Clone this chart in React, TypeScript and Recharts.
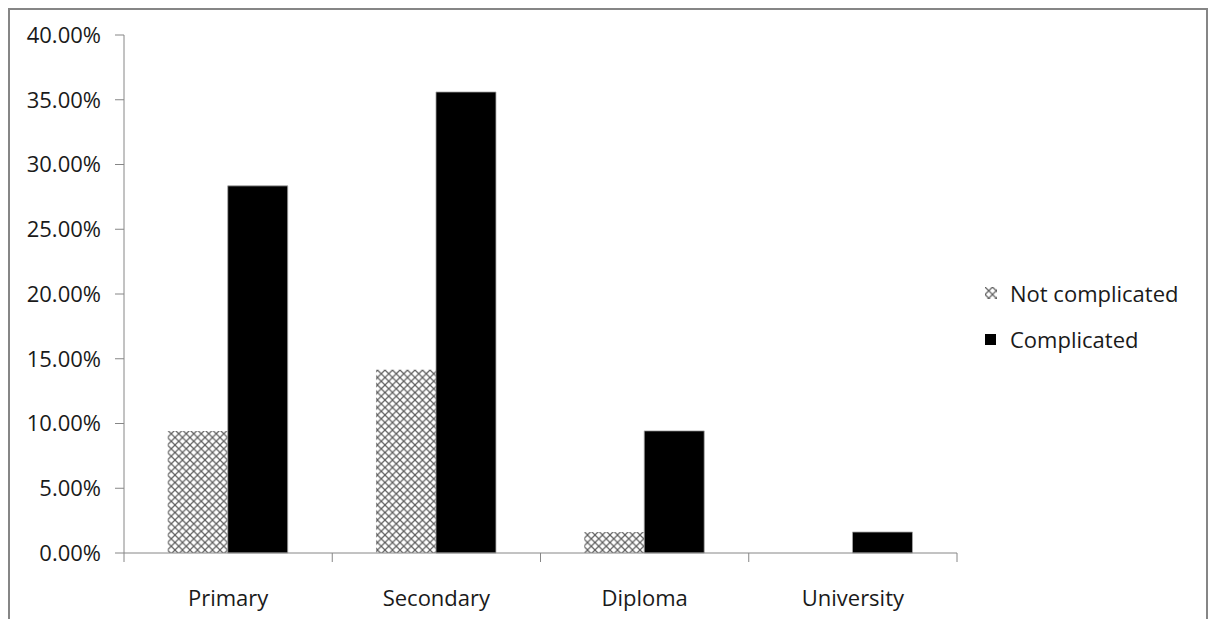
import { BarChart, Bar, XAxis, YAxis, Legend } from 'recharts';

const categories = ['Primary', 'Secondary', 'Diploma', 'University'];
const notComplicated = [9.43, 14.15, 1.62, 0];
const complicated = [28.35, 35.6, 9.43, 1.62];
const yTicks = [0, 5, 10, 15, 20, 25, 30, 35, 40];

const data = categories.map((name, i) => ({
  name,
  notComplicated: notComplicated[i],
  complicated: complicated[i],
}));

const FONT = '"Open Sans", "Noto Sans", sans-serif';
const AXIS = '#868686';
const TEXT = '#1a1a1a';

// category ticks sit on the band edges, not at the centres
const XTick = (props: any) => {
  const { x, y, payload, index, visibleTicksCount } = props;
  const half = payload?.offset ?? 104;
  const top = y - 9;
  const last = index === visibleTicksCount - 1;
  return (
    <g>
      <line x1={x - half} x2={x - half} y1={top} y2={top + 9} stroke={AXIS} />
      {last && <line x1={x + half} x2={x + half} y1={top} y2={top + 9} stroke={AXIS} />}
      <text x={x} y={top + 44} textAnchor="middle" dominantBaseline="central" fill={TEXT} fontSize={22} fontFamily={FONT}>
        {payload.value}
      </text>
    </g>
  );
};

const LegendBox = () => (
  <div style={{ fontFamily: FONT, fontSize: 22, color: TEXT }}>
    <div style={{ height: 46, display: 'flex', alignItems: 'center' }}>
      <svg width={13} height={13} style={{ marginRight: 12 }}>
        <rect x={0} y={0} width={12} height={12} fill="url(#cross)" />
      </svg>
      Not complicated
    </div>
    <div style={{ height: 46, display: 'flex', alignItems: 'center' }}>
      <svg width={13} height={13} style={{ marginRight: 12 }}>
        <rect x={0} y={1} width={11} height={11} fill="#000" />
      </svg>
      Complicated
    </div>
  </div>
);

export default function App() {
  return (
    <div style={{ width: 1200, height: 640, border: '2px solid ' + AXIS, boxSizing: 'border-box', position: 'relative' }}>
      <svg width={0} height={0} style={{ position: 'absolute' }}>
        <defs>
          <pattern id="cross" width={7.5} height={7.5} patternUnits="userSpaceOnUse">
            <rect width={7.5} height={7.5} fill="#fff" />
            <path d="M0,0 L7.5,7.5 M7.5,0 L0,7.5" stroke="#5e5e5e" strokeWidth={1.2} />
          </pattern>
        </defs>
      </svg>
      <BarChart
        width={1196}
        height={620}
        data={data}
        margin={{ top: 25, right: 9, bottom: 17, left: 0 }}
        barCategoryGap="21%"
        barGap={0}
      >
        <XAxis
          dataKey="name"
          height={60}
          stroke={AXIS}
          tickLine={false}
          tickSize={9}
          tickMargin={0}
          tick={<XTick />}
          interval={0}
        />
        <YAxis
          width={114}
          domain={[0, 40]}
          ticks={yTicks}
          stroke={AXIS}
          tickSize={9}
          tickMargin={14}
          tick={{ fill: TEXT, fontSize: 22, fontFamily: FONT }}
          tickFormatter={(v: number) => v.toFixed(2) + '%'}
        />
        <Legend
          layout="vertical"
          align="right"
          verticalAlign="middle"
          width={240}
          content={<LegendBox />}
          wrapperStyle={{ left: 975, top: 260, right: 'auto' }}
        />
        <Bar dataKey="notComplicated" name="Not complicated" fill="url(#cross)" isAnimationActive={false} />
        <Bar dataKey="complicated" name="Complicated" fill="#000" stroke="#a8a8a8" strokeWidth={0.8} isAnimationActive={false} />
      </BarChart>
    </div>
  );
}
